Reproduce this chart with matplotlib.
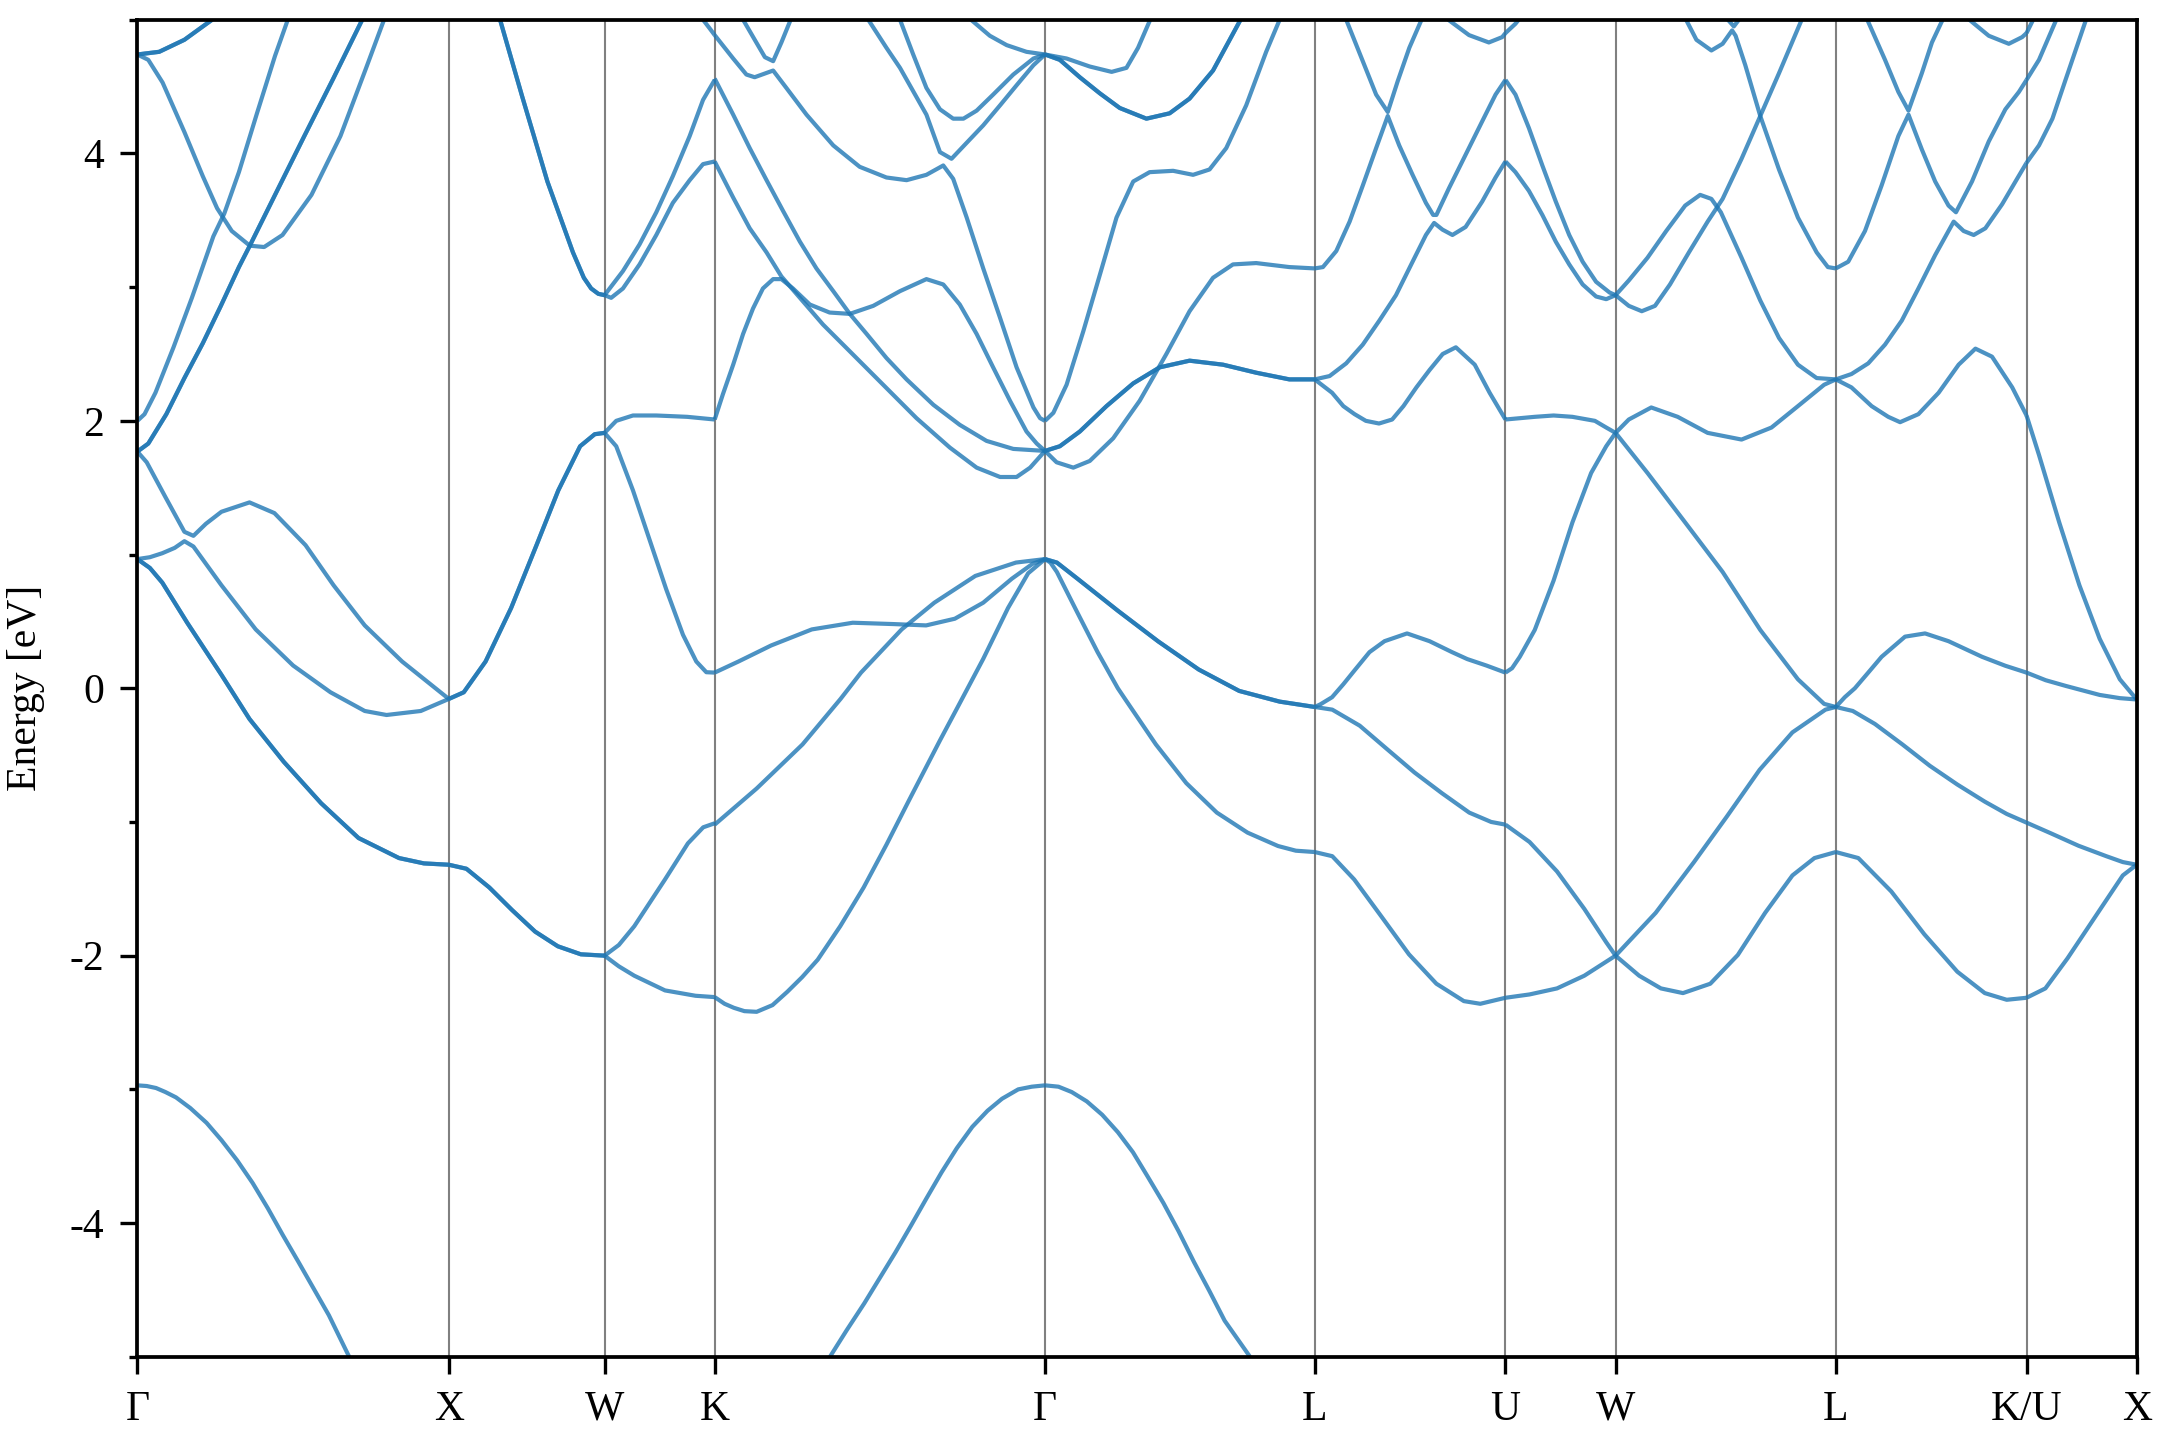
import matplotlib
matplotlib.use("Agg")
import matplotlib.pyplot as plt
from matplotlib.ticker import MultipleLocator

plt.rcParams["font.family"] = ["Liberation Serif", "DejaVu Serif"]
plt.rcParams["axes.unicode_minus"] = False

# high-symmetry points, cumulative path length (2pi/a)
K_TICKS = [0.0, 1.0, 1.5, 1.8536, 2.9142, 3.7802, 4.3926, 4.7462, 5.4533, 6.0657, 6.4193]
K_LABELS = ["Γ", "X", "W", "K", "Γ", "L", "U", "W", "L", "K/U", "X"]

# each segment: list of (degeneracy, [(fraction along segment, energy in eV), ...])
GAMMA_X = [
    (2, [(0.0, 0.966), (0.04, 0.90), (0.08, 0.79), (0.16, 0.49), (0.27, 0.10), (0.36, -0.23), (0.47, -0.55),
         (0.59, -0.86), (0.71, -1.12), (0.84, -1.27), (0.92, -1.31), (1.0, -1.32)]),
    (1, [(0.0, 0.966), (0.04, 0.98), (0.08, 1.01), (0.12, 1.05), (0.151, 1.10), (0.18, 1.06), (0.27, 0.77),
         (0.38, 0.44), (0.50, 0.17), (0.62, -0.03), (0.73, -0.17), (0.80, -0.20), (0.91, -0.17), (1.0, -0.08)]),
    (1, [(0.0, 1.77), (0.03, 1.69), (0.09, 1.43), (0.151, 1.17), (0.18, 1.14), (0.22, 1.23), (0.27, 1.32),
         (0.36, 1.39), (0.44, 1.31), (0.54, 1.07), (0.63, 0.77), (0.73, 0.47), (0.85, 0.20), (1.0, -0.08)]),
    (2, [(0.0, 1.77), (0.035, 1.83), (0.093, 2.05), (0.151, 2.32), (0.21, 2.58), (0.268, 2.86), (0.326, 3.15),
         (0.361, 3.31), (0.442, 3.69), (0.536, 4.13), (0.629, 4.56), (0.722, 5.0)]),
    (1, [(0.0, 2.0), (0.023, 2.05), (0.058, 2.21), (0.116, 2.55), (0.175, 2.92), (0.244, 3.38), (0.279, 3.55),
         (0.326, 3.86), (0.384, 4.30), (0.442, 4.73), (0.483, 5.0)]),
    (1, [(0.0, 4.74), (0.035, 4.70), (0.081, 4.53), (0.151, 4.16), (0.21, 3.83), (0.256, 3.59), (0.303, 3.42),
         (0.361, 3.31), (0.407, 3.30), (0.466, 3.39), (0.559, 3.69), (0.652, 4.13), (0.733, 4.63), (0.792, 5.0)]),
    (2, [(0.0, 4.74), (0.07, 4.76), (0.151, 4.85), (0.24, 5.0)]),
    (1, [(0.0, -2.97), (0.03, -2.975), (0.06, -2.99), (0.09, -3.02), (0.124, -3.06), (0.17, -3.14),
         (0.222, -3.25), (0.27, -3.38), (0.32, -3.53), (0.37, -3.70), (0.419, -3.89), (0.467, -4.09),
         (0.517, -4.29), (0.566, -4.49), (0.615, -4.69), (0.68, -5.0)]),
]

X_W = [
    (2, [(0.0, -1.32), (0.113, -1.35), (0.26, -1.49), (0.407, -1.66), (0.554, -1.82), (0.70, -1.93),
         (0.848, -1.99), (1.0, -2.0)]),
    (2, [(0.0, -0.08), (0.096, -0.03), (0.236, 0.20), (0.40, 0.60), (0.563, 1.07), (0.703, 1.48), (0.843, 1.81),
         (0.937, 1.90), (1.0, 1.91)]),
    (2, [(0.329, 5.0), (0.47, 4.43), (0.633, 3.79), (0.797, 3.26), (0.867, 3.07), (0.914, 2.99), (0.96, 2.95),
         (1.0, 2.94)]),
]

W_K = [
    (1, [(0.0, 2.94), (0.167, 3.12), (0.318, 3.32), (0.47, 3.56), (0.62, 3.83), (0.773, 4.13), (0.894, 4.40),
         (1.0, 4.55)]),
    (1, [(0.0, 2.94), (0.06, 2.92), (0.167, 2.99), (0.318, 3.17), (0.47, 3.39), (0.62, 3.63), (0.773, 3.80),
         (0.894, 3.92), (1.0, 3.94)]),
    (1, [(0.0, 1.91), (0.106, 2.0), (0.258, 2.04), (0.47, 2.04), (0.75, 2.03), (1.0, 2.01)]),
    (1, [(0.0, 1.91), (0.106, 1.81), (0.258, 1.48), (0.409, 1.11), (0.56, 0.74), (0.712, 0.40), (0.833, 0.20),
         (0.924, 0.12), (1.0, 0.117)]),
    (1, [(0.0, -2.0), (0.13, -1.92), (0.27, -1.78), (0.549, -1.43), (0.757, -1.16), (0.896, -1.04), (1.0, -1.01)]),
    (1, [(0.0, -2.0), (0.13, -2.08), (0.27, -2.15), (0.549, -2.26), (0.826, -2.30), (1.0, -2.31)]),
    (1, [(0.894, 5.0), (0.95, 4.94), (1.0, 4.885)]),
]

K_GAMMA = [
    (1, [(0.0, 0.117), (0.072, 0.20), (0.171, 0.32), (0.294, 0.44), (0.418, 0.49), (0.541, 0.48), (0.64, 0.47),
         (0.727, 0.52), (0.813, 0.64), (0.90, 0.82), (0.962, 0.93), (1.0, 0.966)]),
    (1, [(0.0, -1.02), (0.127, -0.75), (0.266, -0.42), (0.381, -0.08), (0.443, 0.117), (0.566, 0.44),
         (0.665, 0.64), (0.789, 0.84), (0.912, 0.94), (1.0, 0.966)]),
    (1, [(0.0, -2.31), (0.03, -2.36), (0.058, -2.39), (0.09, -2.415), (0.127, -2.42), (0.175, -2.37),
         (0.22, -2.27), (0.265, -2.16), (0.312, -2.03), (0.38, -1.78), (0.451, -1.49), (0.52, -1.17),
         (0.59, -0.83), (0.682, -0.39), (0.738, -0.13), (0.813, 0.22), (0.888, 0.60), (0.949, 0.86), (1.0, 0.966)]),
    (1, [(0.0, 4.885), (0.056, 4.71), (0.096, 4.59), (0.121, 4.57), (0.177, 4.62), (0.217, 4.49), (0.278, 4.29),
         (0.359, 4.06), (0.439, 3.90), (0.52, 3.82), (0.581, 3.80), (0.641, 3.84), (0.692, 3.91), (0.722, 3.81),
         (0.763, 3.52), (0.813, 3.14), (0.864, 2.77), (0.914, 2.40), (0.965, 2.10), (0.985, 2.02), (1.0, 2.0)]),
    (1, [(0.465, 5.0), (0.52, 4.79), (0.561, 4.64), (0.641, 4.29), (0.682, 4.01), (0.717, 3.96), (0.763, 4.08),
         (0.813, 4.21), (0.864, 4.36), (0.914, 4.51), (0.965, 4.66), (1.0, 4.74)]),
    (1, [(0.561, 5.0), (0.601, 4.74), (0.641, 4.49), (0.682, 4.33), (0.722, 4.26), (0.753, 4.26), (0.793, 4.32),
         (0.843, 4.44), (0.904, 4.59), (0.965, 4.71), (1.0, 4.74)]),
    (1, [(0.776, 5.0), (0.833, 4.88), (0.884, 4.81), (0.944, 4.76), (1.0, 4.74)]),
    (1, [(0.086, 5.0), (0.126, 4.83), (0.152, 4.72), (0.177, 4.69), (0.202, 4.83), (0.23, 5.0)]),
    (1, [(0.0, 2.01), (0.025, 2.20), (0.056, 2.42), (0.086, 2.65), (0.116, 2.84), (0.146, 2.99), (0.177, 3.06),
         (0.202, 3.06), (0.237, 2.99), (0.288, 2.87), (0.348, 2.81), (0.409, 2.80), (0.48, 2.86), (0.561, 2.97),
         (0.641, 3.06), (0.692, 3.02), (0.742, 2.87), (0.793, 2.65), (0.843, 2.40), (0.894, 2.15), (0.944, 1.92),
         (0.975, 1.83), (1.0, 1.775)]),
    (1, [(0.0, 4.56), (0.056, 4.29), (0.106, 4.04), (0.157, 3.80), (0.207, 3.57), (0.258, 3.34), (0.308, 3.14),
         (0.359, 2.97), (0.409, 2.80), (0.46, 2.65), (0.52, 2.47), (0.581, 2.31), (0.662, 2.12), (0.742, 1.97),
         (0.823, 1.85), (0.904, 1.79), (1.0, 1.775)]),
    (1, [(0.0, 3.94), (0.056, 3.67), (0.106, 3.44), (0.157, 3.26), (0.202, 3.08), (0.258, 2.92), (0.328, 2.72),
         (0.409, 2.52), (0.51, 2.27), (0.611, 2.02), (0.712, 1.80), (0.793, 1.65), (0.864, 1.58), (0.914, 1.58),
         (0.955, 1.65), (1.0, 1.775)]),
    (1, [(0.349, -5.0), (0.40, -4.80), (0.453, -4.60), (0.50, -4.41), (0.547, -4.22), (0.594, -4.02),
         (0.64, -3.82), (0.687, -3.62), (0.733, -3.44), (0.78, -3.28), (0.826, -3.16), (0.87, -3.07),
         (0.919, -3.00), (0.96, -2.98), (1.0, -2.97)]),
]

GAMMA_L = [
    (2, [(0.0, 0.966), (0.044, 0.94), (0.12, 0.82), (0.27, 0.58), (0.42, 0.35), (0.57, 0.14), (0.72, -0.02),
         (0.87, -0.10), (1.0, -0.14)]),
    (1, [(0.0, 0.966), (0.02, 0.94), (0.044, 0.87), (0.119, 0.57), (0.195, 0.27), (0.27, 0.0), (0.30, -0.09),
         (0.411, -0.42), (0.524, -0.71), (0.637, -0.93), (0.751, -1.08), (0.864, -1.18), (0.93, -1.215),
         (1.0, -1.225)]),
    (1, [(0.0, -2.97), (0.05, -2.98), (0.099, -3.02), (0.155, -3.09), (0.212, -3.19), (0.27, -3.32),
         (0.326, -3.47), (0.38, -3.65), (0.439, -3.85), (0.495, -4.06), (0.552, -4.29), (0.61, -4.51),
         (0.666, -4.73), (0.76, -5.0)]),
    (2, [(0.0, 1.775), (0.055, 1.81), (0.129, 1.92), (0.228, 2.11), (0.327, 2.28), (0.425, 2.40), (0.536, 2.45),
         (0.66, 2.42), (0.783, 2.36), (0.906, 2.31), (1.0, 2.31)]),
    (1, [(0.0, 1.775), (0.043, 1.69), (0.105, 1.65), (0.166, 1.70), (0.253, 1.87), (0.351, 2.15), (0.45, 2.50),
         (0.536, 2.82), (0.623, 3.07), (0.697, 3.17), (0.783, 3.18), (0.906, 3.15), (1.0, 3.14)]),
    (1, [(0.0, 2.0), (0.031, 2.06), (0.08, 2.27), (0.142, 2.67), (0.203, 3.09), (0.265, 3.52), (0.327, 3.79),
         (0.388, 3.86), (0.475, 3.87), (0.549, 3.84), (0.61, 3.88), (0.672, 4.04), (0.746, 4.36), (0.82, 4.76),
         (0.87, 5.0)]),
    (2, [(0.0, 4.74), (0.055, 4.70), (0.129, 4.57), (0.203, 4.45), (0.277, 4.34), (0.376, 4.26), (0.462, 4.30),
         (0.536, 4.41), (0.623, 4.62), (0.725, 5.0)]),
    (1, [(0.0, 4.74), (0.08, 4.71), (0.166, 4.65), (0.247, 4.61), (0.302, 4.64), (0.345, 4.79), (0.39, 5.0)]),
]

L_U = [
    (1, [(0.0, -0.14), (0.03, -0.12), (0.091, -0.067), (0.15, 0.03), (0.209, 0.134), (0.287, 0.27), (0.366, 0.352),
         (0.484, 0.41), (0.602, 0.352), (0.72, 0.27), (0.80, 0.218), (0.90, 0.17), (1.0, 0.117)]),
    (1, [(0.0, -0.14), (0.092, -0.16), (0.236, -0.28), (0.379, -0.455), (0.523, -0.63), (0.667, -0.785),
         (0.81, -0.93), (0.925, -1.0), (1.0, -1.02)]),
    (1, [(0.0, -1.225), (0.092, -1.256), (0.207, -1.43), (0.351, -1.71), (0.494, -1.99), (0.638, -2.21),
         (0.782, -2.34), (0.868, -2.36), (1.0, -2.315)]),
    (1, [(0.0, 2.31), (0.091, 2.21), (0.15, 2.11), (0.209, 2.05), (0.268, 2.0), (0.337, 1.98), (0.406, 2.01),
         (0.465, 2.11), (0.533, 2.25), (0.602, 2.38), (0.671, 2.50), (0.74, 2.55), (0.839, 2.42), (0.917, 2.21),
         (1.0, 2.01)]),
    (1, [(0.0, 2.31), (0.078, 2.335), (0.165, 2.43), (0.252, 2.57), (0.339, 2.75), (0.426, 2.94), (0.513, 3.19),
         (0.583, 3.39), (0.626, 3.48), (0.67, 3.43), (0.722, 3.39), (0.791, 3.45), (0.878, 3.64), (0.948, 3.82),
         (1.0, 3.94)]),
    (1, [(0.0, 3.14), (0.043, 3.15), (0.113, 3.27), (0.183, 3.49), (0.252, 3.76), (0.322, 4.04), (0.383, 4.28),
         (0.443, 4.06), (0.513, 3.84), (0.583, 3.63), (0.621, 3.54), (0.638, 3.54), (0.704, 3.74), (0.791, 3.99),
         (0.878, 4.24), (0.948, 4.44), (1.0, 4.55)]),
    (1, [(0.165, 5.0), (0.252, 4.69), (0.322, 4.44), (0.383, 4.31), (0.435, 4.54), (0.496, 4.79), (0.56, 5.0)]),
    (1, [(0.70, 5.0), (0.809, 4.885), (0.913, 4.83), (0.983, 4.87), (1.0, 4.90)]),
]

U_W = [
    (1, [(0.0, 4.55), (0.091, 4.44), (0.213, 4.19), (0.335, 3.91), (0.457, 3.64), (0.579, 3.39), (0.701, 3.19),
         (0.823, 3.04), (0.945, 2.96), (1.0, 2.94)]),
    (1, [(0.0, 3.94), (0.091, 3.86), (0.213, 3.72), (0.335, 3.54), (0.457, 3.34), (0.579, 3.17), (0.701, 3.02),
         (0.823, 2.93), (0.915, 2.91), (1.0, 2.94)]),
    (1, [(0.0, 2.01), (0.266, 2.03), (0.437, 2.04), (0.608, 2.03), (0.812, 2.0), (0.915, 1.95), (1.0, 1.91)]),
    (1, [(0.0, 0.117), (0.06, 0.15), (0.13, 0.235), (0.266, 0.436), (0.437, 0.805), (0.608, 1.24), (0.778, 1.61),
         (0.915, 1.81), (1.0, 1.91)]),
    (1, [(0.0, -1.02), (0.219, -1.15), (0.468, -1.37), (0.716, -1.65), (0.915, -1.90), (1.0, -2.0)]),
    (1, [(0.0, -2.315), (0.219, -2.29), (0.468, -2.245), (0.716, -2.15), (1.0, -2.0)]),
    (1, [(0.0, 4.90), (0.091, 4.97), (0.12, 5.0)]),
]

W_L = [
    (1, [(0.0, 1.91), (0.145, 1.61), (0.316, 1.24), (0.486, 0.87), (0.657, 0.436), (0.828, 0.067), (0.947, -0.117),
         (1.0, -0.14)]),
    (1, [(0.0, 1.91), (0.06, 2.01), (0.162, 2.10), (0.282, 2.03), (0.418, 1.91), (0.572, 1.86), (0.708, 1.95),
         (0.828, 2.11), (0.947, 2.27), (1.0, 2.31)]),
    (1, [(0.0, -2.0), (0.182, -1.68), (0.356, -1.30), (0.505, -0.96), (0.654, -0.61), (0.803, -0.33),
         (0.953, -0.16), (1.0, -0.14)]),
    (1, [(0.0, -2.0), (0.107, -2.15), (0.206, -2.245), (0.306, -2.28), (0.43, -2.21), (0.555, -1.995),
         (0.679, -1.68), (0.803, -1.40), (0.903, -1.27), (1.0, -1.225)]),
    (1, [(0.0, 2.94), (0.06, 3.05), (0.145, 3.22), (0.23, 3.42), (0.316, 3.61), (0.384, 3.69), (0.435, 3.66),
         (0.478, 3.56), (0.572, 3.22), (0.657, 2.90), (0.742, 2.62), (0.828, 2.42), (0.913, 2.32), (1.0, 2.31)]),
    (1, [(0.0, 2.94), (0.06, 2.86), (0.119, 2.82), (0.179, 2.86), (0.247, 3.02), (0.333, 3.26), (0.418, 3.49),
         (0.486, 3.66), (0.572, 3.96), (0.657, 4.28), (0.742, 4.60), (0.845, 5.0)]),
    (1, [(0.32, 5.0), (0.367, 4.85), (0.435, 4.77), (0.486, 4.82), (0.529, 4.92), (0.545, 4.88), (0.589, 4.66),
         (0.657, 4.28), (0.742, 3.88), (0.828, 3.52), (0.913, 3.26), (0.964, 3.15), (1.0, 3.14)]),
    (1, [(0.51, 5.0), (0.537, 4.95), (0.56, 5.0)]),
]

L_K = [
    (1, [(0.0, -0.14), (0.089, -0.17), (0.205, -0.267), (0.349, -0.42), (0.493, -0.58), (0.637, -0.72),
         (0.781, -0.848), (0.896, -0.94), (1.0, -1.005)]),
    (1, [(0.0, -0.14), (0.047, -0.067), (0.10, 0.0), (0.17, 0.117), (0.24, 0.235), (0.363, 0.386), (0.468, 0.41),
         (0.591, 0.352), (0.767, 0.235), (0.889, 0.168), (1.0, 0.117)]),
    (1, [(0.0, -1.225), (0.118, -1.27), (0.291, -1.52), (0.464, -1.84), (0.637, -2.12), (0.781, -2.28),
         (0.896, -2.33), (1.0, -2.315)]),
    (1, [(0.0, 2.31), (0.082, 2.25), (0.188, 2.11), (0.275, 2.03), (0.337, 1.99), (0.433, 2.05), (0.539, 2.21),
         (0.644, 2.42), (0.732, 2.54), (0.819, 2.48), (0.925, 2.25), (1.0, 2.04)]),
    (1, [(0.0, 2.31), (0.082, 2.35), (0.17, 2.43), (0.258, 2.57), (0.346, 2.75), (0.433, 2.99), (0.521, 3.24),
         (0.618, 3.49), (0.67, 3.42), (0.723, 3.39), (0.784, 3.44), (0.872, 3.62), (0.942, 3.79), (1.0, 3.93)]),
    (1, [(0.0, 3.14), (0.065, 3.19), (0.153, 3.42), (0.24, 3.76), (0.328, 4.13), (0.381, 4.29), (0.451, 4.03),
         (0.521, 3.79), (0.591, 3.61), (0.63, 3.56), (0.714, 3.79), (0.802, 4.09), (0.889, 4.33), (0.96, 4.46),
         (1.0, 4.55)]),
    (1, [(0.165, 5.0), (0.258, 4.70), (0.328, 4.46), (0.381, 4.32), (0.451, 4.60), (0.504, 4.83), (0.56, 5.0)]),
    (1, [(0.70, 5.0), (0.802, 4.88), (0.907, 4.82), (0.977, 4.87), (1.0, 4.90)]),
]

K_X = [
    (1, [(0.0, -1.005), (0.221, -1.085), (0.472, -1.178), (0.724, -1.256), (0.874, -1.30), (1.0, -1.32)]),
    (1, [(0.0, 0.117), (0.174, 0.06), (0.358, 0.017), (0.664, -0.05), (0.847, -0.074), (1.0, -0.084)]),
    (1, [(0.0, -2.315), (0.171, -2.245), (0.372, -2.02), (0.623, -1.71), (0.874, -1.40), (1.0, -1.32)]),
    (1, [(0.0, 2.04), (0.113, 1.745), (0.297, 1.24), (0.48, 0.77), (0.664, 0.37), (0.847, 0.067), (1.0, -0.084)]),
    (1, [(0.0, 4.55), (0.113, 4.70), (0.27, 5.0)]),
    (1, [(0.0, 3.93), (0.113, 4.06), (0.235, 4.26), (0.358, 4.56), (0.54, 5.0)]),
    (1, [(0.0, 4.90), (0.06, 5.0)]),
]

SEGMENTS = [GAMMA_X, X_W, W_K, K_GAMMA, GAMMA_L, L_U, U_W, W_L, L_K, K_X]


def main() -> None:
    fig = plt.figure(figsize=(7.2, 4.8), dpi=300)
    ax = fig.add_axes([0.0636, 0.0578, 0.9256, 0.9285])

    for k in K_TICKS[1:-1]:
        ax.axvline(k, color="gray", lw=0.5, zorder=1)

    for i, curves in enumerate(SEGMENTS):
        k0, k1 = K_TICKS[i], K_TICKS[i + 1]
        for deg, pts in curves:
            ks = [k0 + f * (k1 - k0) for f, _ in pts]
            es = [e for _, e in pts]
            # degenerate bands are drawn on top of each other, as in the original
            for _ in range(deg):
                ax.plot(ks, es, color="#1f77b4", alpha=0.8, lw=1.0,
                        solid_capstyle="butt", solid_joinstyle="round", zorder=2)

    ax.set_xlim(K_TICKS[0], K_TICKS[-1])
    ax.set_ylim(-5, 5)
    ax.set_xticks(K_TICKS)
    ax.set_xticklabels(K_LABELS)
    ax.yaxis.set_major_locator(MultipleLocator(2))
    ax.yaxis.set_minor_locator(MultipleLocator(1))
    ax.tick_params(which="major", direction="out", length=4, width=0.8, labelsize=10, pad=4)
    ax.tick_params(which="minor", direction="out", length=2, width=0.8)
    ax.set_ylabel("Energy [eV]", fontsize=10)
    ax.yaxis.set_label_coords(-0.046, 0.5)
    for s in ax.spines.values():
        s.set_linewidth(0.9)

    fig.savefig("out.png", dpi=300)
    plt.close(fig)


if __name__ == "__main__":
    main()
